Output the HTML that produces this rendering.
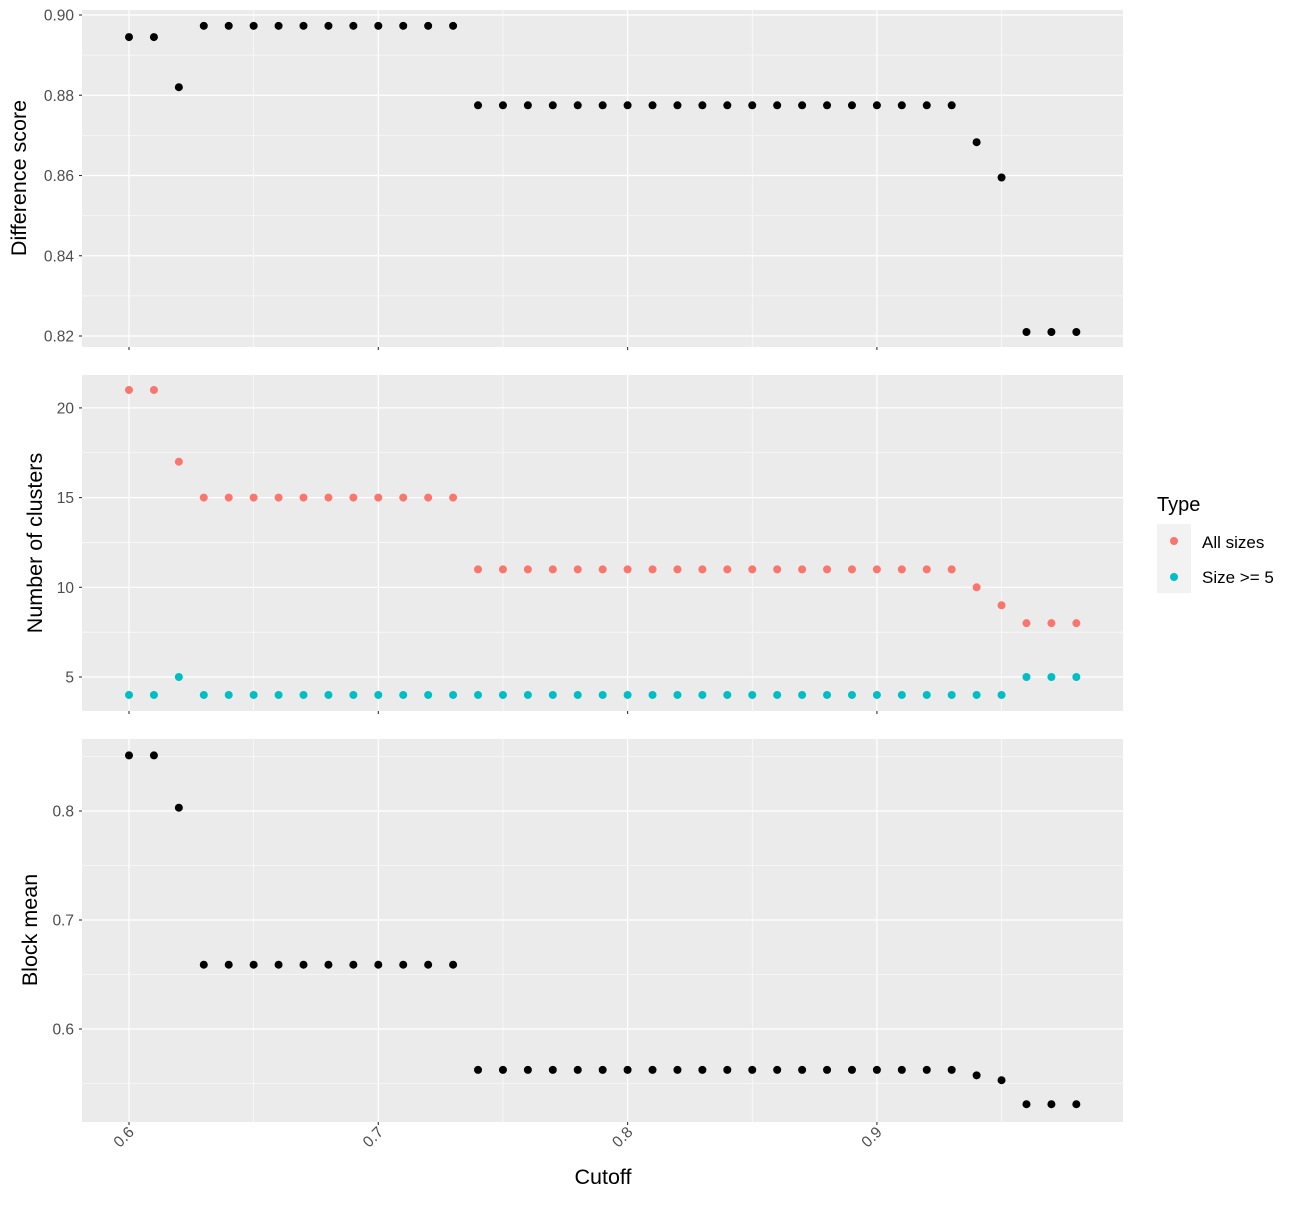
<!DOCTYPE html>
<html><head><meta charset="utf-8"><style>
body{margin:0;background:#fff;}
svg text{font-family:"Liberation Sans",sans-serif;}
</style></head><body>
<svg id="s" width="1300" height="1200" xmlns="http://www.w3.org/2000/svg">
</svg>
<script>
const s=document.getElementById('s');
let h='';
const X0=82,X1=1123;
const xp=v=>129+(v-0.6)*2493;
function panel(y0,y1,ymap,majors,minors,labels){
  h+=`<rect x="${X0}" y="${y0}" width="${X1-X0}" height="${y1-y0}" fill="#EBEBEB"/>`;
  minors.forEach(v=>{const y=ymap(v);h+=`<line x1="${X0}" x2="${X1}" y1="${y}" y2="${y}" stroke="#fff" stroke-width="0.6"/>`;});
  [0.65,0.75,0.85,0.95].forEach(v=>{const x=xp(v);h+=`<line x1="${x}" x2="${x}" y1="${y0}" y2="${y1}" stroke="#fff" stroke-width="0.6"/>`;});
  majors.forEach((v,i)=>{const y=ymap(v);h+=`<line x1="${X0}" x2="${X1}" y1="${y}" y2="${y}" stroke="#fff" stroke-width="1.2"/>`;
    h+=`<line x1="${X0-3}" x2="${X0}" y1="${y}" y2="${y}" stroke="#333" stroke-width="1.1"/>`;
    h+=`<text x="${X0-8}" y="${y+5.5}" font-size="15.5" fill="#4D4D4D" text-anchor="end">${labels[i]}</text>`;});
  [0.6,0.7,0.8,0.9].forEach(v=>{const x=xp(v);h+=`<line x1="${x}" x2="${x}" y1="${y0}" y2="${y1}" stroke="#fff" stroke-width="1.2"/>`;
    h+=`<line x1="${x}" x2="${x}" y1="${y1}" y2="${y1+3}" stroke="#333" stroke-width="1.1"/>`;});
}
const xs=[];for(let i=0;i<=38;i++)xs.push(0.6+i*0.01);
const y1m=v=>15+(0.90-v)/0.02*80.25;
panel(10,347,y1m,[0.82,0.84,0.86,0.88,0.90],[0.83,0.85,0.87,0.89],['0.82','0.84','0.86','0.88','0.90']);
const d1=xs.map((x,i)=>i<2?0.8945:i==2?0.882:i<=13?0.8973:i<=33?0.8775:i==34?0.8683:i==35?0.8595:0.821);
d1.forEach((v,i)=>h+=`<circle cx="${xp(xs[i])}" cy="${y1m(v)}" r="4" fill="#000"/>`);
const y2m=v=>677-(v-5)*17.94;
panel(375,711,y2m,[5,10,15,20],[7.5,12.5,17.5],['5','10','15','20']);
const r2=xs.map((x,i)=>i<2?21:i==2?17:i<=13?15:i<=33?11:i==34?10:i==35?9:8);
const c2=xs.map((x,i)=>i==2?5:i<=35?4:5);
r2.forEach((v,i)=>h+=`<circle cx="${xp(xs[i])}" cy="${y2m(v)}" r="4" fill="#F8766D"/>`);
c2.forEach((v,i)=>h+=`<circle cx="${xp(xs[i])}" cy="${y2m(v)}" r="4" fill="#00BFC4"/>`);
const y3m=v=>1029-(v-0.6)*1090;
panel(739,1122,y3m,[0.6,0.7,0.8],[0.55,0.65,0.75,0.85],['0.6','0.7','0.8']);
const d3=xs.map((x,i)=>i<2?0.851:i==2?0.803:i<=13?0.659:i<=33?0.5625:i==34?0.5575:i==35?0.553:0.531);
d3.forEach((v,i)=>h+=`<circle cx="${xp(xs[i])}" cy="${y3m(v)}" r="4" fill="#000"/>`);
[0.6,0.7,0.8,0.9].forEach(v=>{const x=xp(v);h+=`<text transform="translate(${x+6},${1133}) rotate(-45)" font-size="15.5" fill="#4D4D4D" text-anchor="end">${v.toFixed(1)}</text>`;});
h+=`<text x="603" y="1184" font-size="21.5" text-anchor="middle" fill="#000">Cutoff</text>`;
h+=`<text transform="translate(26,178) rotate(-90)" font-size="21.5" text-anchor="middle">Difference score</text>`;
h+=`<text transform="translate(42,543) rotate(-90)" font-size="21.5" text-anchor="middle">Number of clusters</text>`;
h+=`<text transform="translate(37,930) rotate(-90)" font-size="21.5" text-anchor="middle">Block mean</text>`;
h+=`<text x="1157" y="511" font-size="20">Type</text>`;
h+=`<rect x="1157" y="524" width="34" height="69" fill="#F2F2F2"/>`;
h+=`<circle cx="1174" cy="541" r="4" fill="#F8766D"/><circle cx="1174" cy="577" r="4" fill="#00BFC4"/>`;
h+=`<text x="1202" y="548" font-size="17">All sizes</text><text x="1202" y="583" font-size="17">Size &gt;= 5</text>`;
s.innerHTML=h;
</script>
</body></html>
